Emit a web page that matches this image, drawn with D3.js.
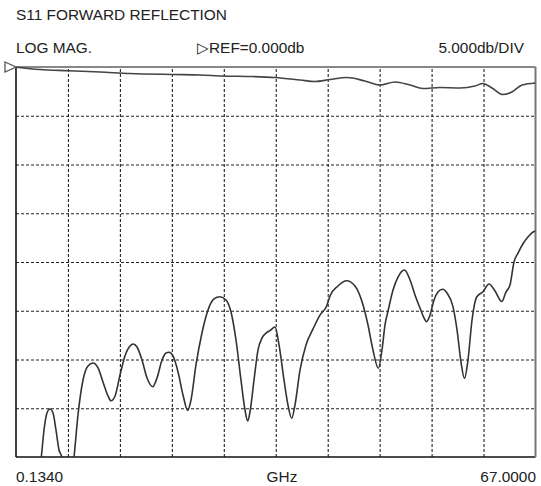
<!DOCTYPE html>
<html>
<head>
<meta charset="utf-8">
<script src="https://d3js.org/d3.v7.min.js"></script>
<style>
body { margin: 0; background: #fff; }
text { font-family: "Liberation Sans", Arial, sans-serif; fill: #222; }
</style>
</head>
<body>
<div id="chart"></div>
<script>
// frequency span (GHz) and reference / scale (dB)
var fStart = 0.134, fStop = 67.0
var refDb = 0, dbPerDiv = 5, yDivs = 8, xDivs = 10

// upper trace (near 0 dB)
var topFreq = [0.13, 3.22, 6.83, 10.95, 14.81, 20.21, 23.82, 26.78, 30.25, 33.47, 36.69, 38.62, 40.55, 42.74,
  45.05, 47.0, 48.91, 50.84, 52.52, 54.71, 57.28, 59.21, 60.24, 61.4, 62.82, 63.97, 65.26, 67.0]
var topDb = [-0.03, -0.26, -0.38, -0.51, -0.67, -0.77, -0.82, -0.92, -0.97, -1.08, -1.33, -1.49, -1.28, -1.08,
  -1.44, -1.85, -1.54, -1.85, -2.21, -2.10, -2.15, -1.95, -1.69, -2.15, -2.82, -2.56, -1.85, -1.64]

// S11 reflection trace
var s11Freq = [0.13, 1.94, 2.97, 3.39, 3.74, 4.12, 4.51, 4.90, 5.28, 5.67, 6.02, 6.44, 6.83, 7.21, 7.60, 8.11,
  8.76, 9.40, 10.05, 10.69, 11.33, 11.98, 12.36, 12.88, 13.52, 14.16, 14.81, 15.23, 15.71, 16.35, 17.00, 17.73,
  18.28, 18.93, 19.44, 19.83, 20.34, 20.99, 21.63, 22.23, 22.66, 23.30, 24.07, 24.85, 25.62, 26.39, 27.16, 27.81,
  28.45, 29.09, 29.61, 29.96, 30.25, 30.77, 31.28, 31.80, 32.40, 32.83, 33.47, 33.99, 34.63, 35.14, 35.62, 36.04,
  36.69, 37.46, 38.40, 39.26, 40.12, 40.55, 41.58, 42.70, 43.77, 44.84, 45.44, 46.08, 46.77, 47.24, 47.63, 48.05,
  48.66, 49.30, 50.14, 50.85, 51.49, 52.13, 52.65, 52.97, 53.42, 53.94, 54.45, 55.03, 55.61, 56.38, 56.90, 57.41,
  57.86, 58.31, 58.83, 59.43, 60.24, 61.01, 61.79, 62.65, 63.20, 63.72, 64.23, 64.75, 65.43, 66.03, 66.68, 67.0]
var s11Db = [-44.41, -46.46, -42.36, -40.0, -37.23, -35.49, -35.08, -35.49, -37.23, -39.28, -40.0, -43.38, -44.41,
  -42.36, -40.0, -35.69, -32.10, -30.67, -30.36, -30.87, -32.31, -33.74, -34.23, -33.74, -31.59, -29.64, -28.62,
  -28.41, -28.72, -30.05, -31.90, -32.79, -31.90, -30.05, -29.33, -29.26, -29.64, -31.28, -33.64, -35.21, -34.15,
  -30.56, -27.28, -24.92, -23.79, -23.56, -23.90, -25.13, -28.0, -32.10, -35.18, -36.31, -35.38, -32.10, -29.03,
  -27.79, -27.25, -27.03, -26.67, -28.51, -32.10, -34.67, -36.03, -34.67, -31.08, -28.51, -26.80, -25.44, -24.51,
  -23.49, -22.46, -21.92, -22.46, -24.51, -26.46, -29.03, -30.90, -29.03, -26.46, -24.92, -22.87, -21.54, -20.82,
  -21.85, -23.38, -24.72, -25.74, -26.12, -25.44, -23.90, -23.08, -22.80, -23.18, -24.58, -26.97, -30.26, -31.93,
  -30.05, -25.95, -23.59, -23.05, -22.26, -22.97, -24.05, -23.08, -22.36, -20.0, -19.08, -18.08, -17.44, -16.92, -16.82]

var width = 541, height = 486
var pLeft = 16, pRight = 535.5, pTop = 67, pBottom = 457
var fontSize = 15.4

var svg = d3.select("#chart").append("svg")
  .attr("width", width)
  .attr("height", height)

var x = d3.scaleLinear().domain([fStart, fStop]).range([pLeft, pRight])
var y = d3.scaleLinear().domain([refDb - dbPerDiv * yDivs, refDb]).range([pBottom, pTop])

// titles
svg.append("text").attr("x", 16).attr("y", 20).attr("font-size", fontSize).text("S11 FORWARD REFLECTION")
svg.append("text").attr("x", 16).attr("y", 53).attr("font-size", fontSize).text("LOG MAG.")
svg.append("text").attr("x", 197).attr("y", 53).attr("font-size", fontSize).text("\u25B7REF=0.000db")
svg.append("text").attr("x", 524).attr("y", 53).attr("font-size", fontSize)
  .attr("text-anchor", "end").text("5.000db/DIV")

// dashed grid from axes
var xGrid = d3.range(1, xDivs).map(i => fStart + i * (fStop - fStart) / xDivs)
var yGrid = d3.range(1, yDivs).map(i => refDb - i * dbPerDiv)

var gx = svg.append("g")
  .attr("transform", "translate(0," + pBottom + ")")
  .call(d3.axisBottom(x).tickValues(xGrid).tickSize(-(pBottom - pTop)).tickFormat(""))
var gy = svg.append("g")
  .attr("transform", "translate(" + pLeft + ",0)")
  .call(d3.axisLeft(y).tickValues(yGrid).tickSize(-(pRight - pLeft)).tickFormat(""))
gx.select(".domain").remove()
gy.select(".domain").remove()
svg.selectAll(".tick line")
  .attr("stroke", "#222")
  .attr("stroke-width", 1.1)
  .attr("stroke-dasharray", "3,2")

// frame
svg.append("line").attr("x1", pLeft).attr("x2", pRight).attr("y1", pTop).attr("y2", pTop)
  .attr("stroke", "#111").attr("stroke-width", 1.2)
svg.append("line").attr("x1", pLeft).attr("x2", pRight).attr("y1", pBottom).attr("y2", pBottom)
  .attr("stroke", "#111").attr("stroke-width", 1.6)
svg.append("line").attr("x1", pLeft).attr("x2", pLeft).attr("y1", pTop).attr("y2", pBottom)
  .attr("stroke", "#111").attr("stroke-width", 1.6)
svg.append("line").attr("x1", pRight).attr("x2", pRight).attr("y1", pTop).attr("y2", pBottom)
  .attr("stroke", "#777").attr("stroke-width", 2)

// clip for traces
svg.append("clipPath").attr("id", "plotclip")
  .append("rect").attr("x", pLeft).attr("y", pTop - 1).attr("width", pRight - pLeft).attr("height", pBottom - pTop + 1)

var line = d3.line()
  .x(d => x(d[0]))
  .y(d => y(d[1]))
  .curve(d3.curveMonotoneX)

svg.append("path")
  .datum(d3.zip(topFreq, topDb))
  .attr("clip-path", "url(#plotclip)")
  .attr("fill", "none")
  .attr("stroke", "#444")
  .attr("stroke-width", 1.6)
  .attr("d", line)

svg.append("path")
  .datum(d3.zip(s11Freq, s11Db))
  .attr("clip-path", "url(#plotclip)")
  .attr("fill", "none")
  .attr("stroke", "#333")
  .attr("stroke-width", 1.6)
  .attr("d", line)

// reference marker
var yr = y(refDb)
svg.append("path")
  .attr("d", "M" + (pLeft - 11) + "," + (yr - 5) + "L" + pLeft + "," + yr + "L" + (pLeft - 11) + "," + (yr + 5) + "Z")
  .attr("fill", "#fff")
  .attr("stroke", "#555")
  .attr("stroke-width", 1.3)

// frequency labels
svg.append("text").attr("x", 16).attr("y", 482).attr("font-size", fontSize).text(fStart.toFixed(4))
svg.append("text").attr("x", 282).attr("y", 482).attr("font-size", fontSize)
  .attr("text-anchor", "middle").text("GHz")
svg.append("text").attr("x", 536).attr("y", 482).attr("font-size", fontSize)
  .attr("text-anchor", "end").text(fStop.toFixed(4))
</script>
</body>
</html>
